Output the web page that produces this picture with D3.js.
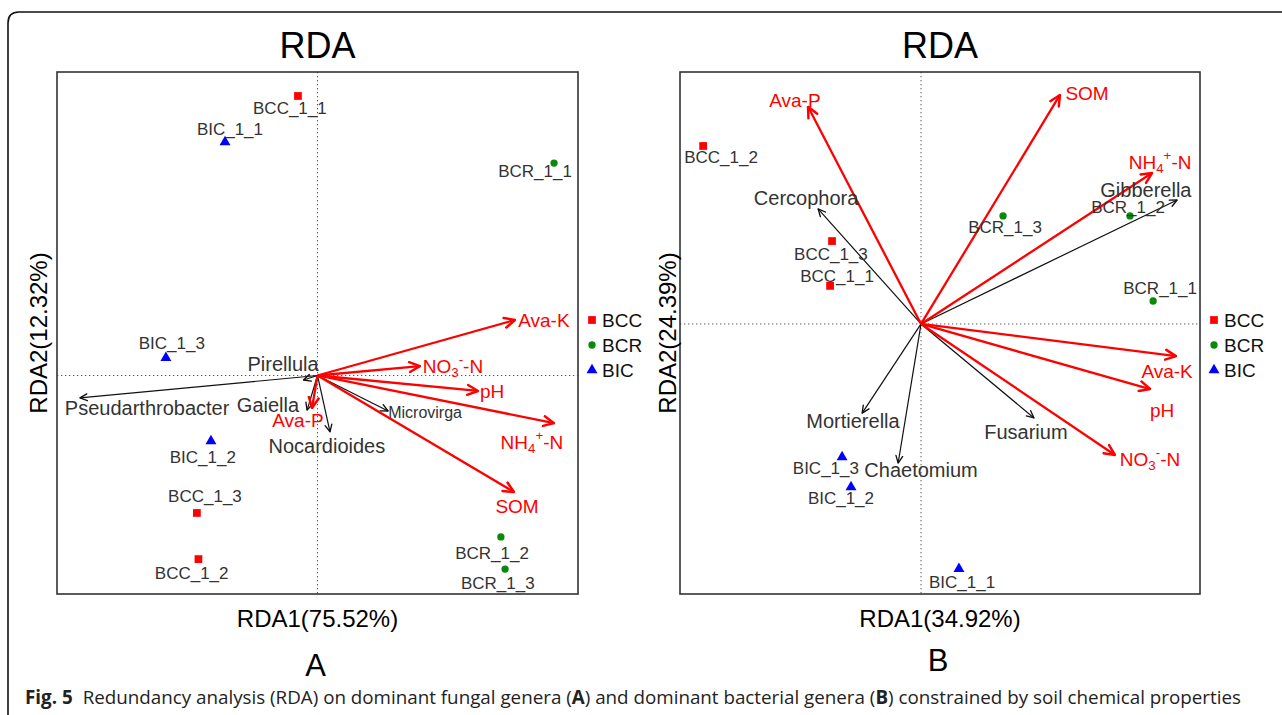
<!DOCTYPE html>
<html>
<head>
<meta charset="utf-8">
<script src="https://cdnjs.cloudflare.com/ajax/libs/d3/7.8.5/d3.min.js"></script>
<style>
  body { margin: 0; background: #fff; }
</style>
</head>
<body>
<div id="chart"></div>
<script>

// Groups shown in the legend
var groups = ["BCC", "BCR", "BIC"];

// Panel A : sample scores (x, y) and where the label sits (lx, ly)
var sitesA = [
    { name: "BCC_1_1", group: "BCC", x: -0.075, y: 0.921, lx: -0.106, ly: 0.881 },
    { name: "BIC_1_1", group: "BIC", x: -0.355, y: 0.769, lx: -0.336, ly: 0.809 },
    { name: "BCR_1_1", group: "BCR", x: 0.908, y: 0.700, lx: 0.835, ly: 0.673 },
    { name: "BIC_1_3", group: "BIC", x: -0.582, y: 0.058, lx: -0.559, ly: 0.104 },
    { name: "BIC_1_2", group: "BIC", x: -0.409, y: -0.216, lx: -0.440, ly: -0.269 },
    { name: "BCC_1_3", group: "BCC", x: -0.463, y: -0.453, lx: -0.432, ly: -0.400 },
    { name: "BCC_1_2", group: "BCC", x: -0.457, y: -0.605, lx: -0.483, ly: -0.654 },
    { name: "BCR_1_2", group: "BCR", x: 0.704, y: -0.532, lx: 0.670, ly: -0.585 },
    { name: "BCR_1_3", group: "BCR", x: 0.720, y: -0.638, lx: 0.692, ly: -0.684 }
];

// Panel A : genera (black arrows)
var speciesA = [
    { name: "Pseudarthrobacter", x: -0.912, y: -0.074, lx: -0.654, ly: -0.107 },
    { name: "Pirellula", x: -0.054, y: -0.015, lx: -0.132, ly: 0.038 },
    { name: "Gaiella", x: -0.040, y: -0.114, lx: -0.190, ly: -0.097 },
    { name: "Nocardioides", x: 0.048, y: -0.186, lx: 0.036, ly: -0.232 },
    { name: "Microvirga", x: 0.271, y: -0.117, lx: 0.413, ly: -0.121 }
];

// Panel A : soil properties (red arrows)
var envA = [
    { name: "Ava-K", x: 0.758, y: 0.183, lx: 0.869, ly: 0.183 },
    { name: "NO_3^--N", x: 0.393, y: 0.031, lx: 0.520, ly: 0.031 },
    { name: "pH", x: 0.616, y: -0.051, lx: 0.670, ly: -0.051 },
    { name: "NH_4^+-N", x: 0.908, y: -0.157, lx: 0.823, ly: -0.219 },
    { name: "SOM", x: 0.754, y: -0.384, lx: 0.766, ly: -0.430 },
    { name: "Ava-P", x: -0.021, y: -0.107, lx: -0.075, ly: -0.147 }
];

// Panel B : sample scores
var sitesB = [
    { name: "BCC_1_2", group: "BCC", x: -0.781, y: 0.659, lx: -0.717, ly: 0.615 },
    { name: "BCC_1_3", group: "BCC", x: -0.319, y: 0.307, lx: -0.323, ly: 0.259 },
    { name: "BCC_1_1", group: "BCC", x: -0.326, y: 0.141, lx: -0.301, ly: 0.174 },
    { name: "BCR_1_3", group: "BCR", x: 0.294, y: 0.400, lx: 0.301, ly: 0.356 },
    { name: "BCR_1_2", group: "BCR", x: 0.749, y: 0.400, lx: 0.742, ly: 0.430 },
    { name: "BCR_1_1", group: "BCR", x: 0.832, y: 0.085, lx: 0.857, ly: 0.133 },
    { name: "BIC_1_3", group: "BIC", x: -0.283, y: -0.493, lx: -0.341, ly: -0.537 },
    { name: "BIC_1_2", group: "BIC", x: -0.251, y: -0.604, lx: -0.287, ly: -0.648 },
    { name: "BIC_1_1", group: "BIC", x: 0.136, y: -0.907, lx: 0.147, ly: -0.956 }
];

// Panel B : genera
var speciesB = [
    { name: "Cercophora", x: -0.369, y: 0.426, lx: -0.412, ly: 0.467 },
    { name: "Gibberella", x: 0.918, y: 0.459, lx: 0.806, ly: 0.496 },
    { name: "Mortierella", x: -0.211, y: -0.330, lx: -0.244, ly: -0.359 },
    { name: "Chaetomium", x: -0.082, y: -0.515, lx: 0.000, ly: -0.541 },
    { name: "Fusarium", x: 0.405, y: -0.348, lx: 0.376, ly: -0.400 }
];

// Panel B : soil properties
var envB = [
    { name: "Ava-P", x: -0.405, y: 0.804, lx: -0.452, ly: 0.830 },
    { name: "SOM", x: 0.498, y: 0.848, lx: 0.595, ly: 0.856 },
    { name: "NH_4^+-N", x: 0.828, y: 0.559, lx: 0.857, ly: 0.600 },
    { name: "Ava-K", x: 0.914, y: -0.119, lx: 0.882, ly: -0.174 },
    { name: "pH", x: 0.821, y: -0.241, lx: 0.864, ly: -0.319 },
    { name: "NO_3^--N", x: 0.695, y: -0.485, lx: 0.821, ly: -0.500 }
];

// Axis titles and panel letters
var axisTitlesA = ["RDA1(75.52%)", "RDA2(12.32%)"];
var axisTitlesB = ["RDA1(34.92%)", "RDA2(24.39%)"];
var panelLetters = ["A", "B"];

///////////////////////////////////////////////////////////////////////////
///////////////////////////// Set up the SVG //////////////////////////////
///////////////////////////////////////////////////////////////////////////

var width = 1282,
    height = 715,
    font = "'Liberation Sans', Arial, sans-serif";

var colorScale = d3.scaleOrdinal()
    .domain(groups)
    .range(["#ff0000", "#0a8a0a", "#0000ff"]);

var shapeScale = d3.scaleOrdinal()
    .domain(groups)
    .range([d3.symbolSquare, d3.symbolCircle, d3.symbolTriangle]);

var sizeScale = d3.scaleOrdinal()
    .domain(groups)
    .range([60, 42, 52]);

var svg = d3.select("#chart")
    .append("svg")
        .attr("width", width)
        .attr("height", height);

// Arrow heads
var defs = svg.append("defs");

function addMarker(id, color, size, sw) {
    defs.append("marker")
        .attr("id", id)
        .attr("viewBox", "0 0 10 10")
        .attr("refX", 9)
        .attr("refY", 5)
        .attr("markerUnits", "userSpaceOnUse")
        .attr("markerWidth", size)
        .attr("markerHeight", size)
        .attr("orient", "auto")
        .append("path")
            .attr("d", "M1,1.2 L9,5 L1,8.8")
            .attr("fill", "none")
            .attr("stroke", color)
            .attr("stroke-width", sw)
            .attr("stroke-linecap", "round")
            .attr("stroke-linejoin", "round");
}
addMarker("head-red", "#ff0000", 13, 1.9);
addMarker("head-black", "#111", 9, 1.5);

// Outer rounded frame
svg.append("path")
    .attr("d", "M8,720 L8,23 Q8,12 19,12 L1290,12")
    .attr("fill", "none")
    .attr("stroke", "#111")
    .attr("stroke-width", 1.6);

// Writes labels like NO_3^--N with sub- and superscripts
function richText(sel, str, fs) {
    var parts = [], i = 0, buf = "";
    while (i < str.length) {
        var c = str[i];
        if ((c === "_" || c === "^") && i + 1 < str.length) {
            if (buf) { parts.push({ t: buf, k: "" }); buf = ""; }
            parts.push({ t: str[i + 1], k: c === "_" ? "sub" : "sup" });
            i += 2;
        } else {
            buf += c;
            i++;
        }
    }
    if (buf) parts.push({ t: buf, k: "" });

    var shift = 0;
    parts.forEach(function(p) {
        var target = p.k === "sub" ? fs * 0.3 : p.k === "sup" ? -fs * 0.35 : 0;
        sel.append("tspan")
            .attr("dy", target - shift)
            .style("font-size", p.k ? (fs * 0.7) + "px" : fs + "px")
            .text(p.t);
        shift = target;
    });
}

///////////////////////////////////////////////////////////////////////////
//////////////////////////////// Panels ///////////////////////////////////
///////////////////////////////////////////////////////////////////////////

function drawPanel(cfg) {

    var x = d3.scaleLinear()
        .domain(cfg.xDomain)
        .range([cfg.left, cfg.right]);

    var y = d3.scaleLinear()
        .domain(cfg.yDomain)
        .range([cfg.bottom, cfg.top]);

    var g = svg.append("g");
    var cx = (cfg.left + cfg.right) / 2,
        cy = (cfg.top + cfg.bottom) / 2;

    // Title
    g.append("text")
        .attr("x", cx)
        .attr("y", 58)
        .attr("text-anchor", "middle")
        .style("font-family", font)
        .style("font-size", "36px")
        .text("RDA");

    // Zero lines
    g.append("line")
        .attr("x1", x(0)).attr("x2", x(0))
        .attr("y1", cfg.top).attr("y2", cfg.bottom)
        .attr("stroke", "#555")
        .attr("stroke-width", 1)
        .attr("stroke-dasharray", "1.3,2.7");
    g.append("line")
        .attr("x1", cfg.left).attr("x2", cfg.right)
        .attr("y1", y(0)).attr("y2", y(0))
        .attr("stroke", "#555")
        .attr("stroke-width", 1)
        .attr("stroke-dasharray", "1.3,2.7");

    // Genus arrows
    g.append("g")
        .selectAll("line")
        .data(cfg.species)
        .enter()
        .append("line")
            .attr("x1", x(0)).attr("y1", y(0))
            .attr("x2", d => x(d.x)).attr("y2", d => y(d.y))
            .attr("stroke", "#111")
            .attr("stroke-width", 1.2)
            .attr("marker-end", "url(#head-black)");

    // Soil property arrows
    g.append("g")
        .selectAll("line")
        .data(cfg.env)
        .enter()
        .append("line")
            .attr("x1", x(0)).attr("y1", y(0))
            .attr("x2", d => x(d.x)).attr("y2", d => y(d.y))
            .attr("stroke", "#ff0000")
            .attr("stroke-width", 2.3)
            .attr("marker-end", "url(#head-red)");

    // Sample points
    g.append("g")
        .selectAll("path")
        .data(cfg.sites)
        .enter()
        .append("path")
            .attr("transform", d => "translate(" + x(d.x) + "," + y(d.y) + ")")
            .attr("d", d => d3.symbol().type(shapeScale(d.group)).size(sizeScale(d.group))())
            .attr("fill", d => colorScale(d.group));

    // Sample labels
    g.append("g")
        .selectAll("text")
        .data(cfg.sites)
        .enter()
        .append("text")
            .attr("x", d => x(d.lx))
            .attr("y", d => y(d.ly))
            .attr("text-anchor", "middle")
            .attr("dominant-baseline", "central")
            .style("font-family", font)
            .style("font-size", "17px")
            .style("fill", "#333")
            .text(d => d.name);

    // Genus labels
    g.append("g")
        .selectAll("text")
        .data(cfg.species)
        .enter()
        .append("text")
            .attr("x", d => x(d.lx))
            .attr("y", d => y(d.ly))
            .attr("text-anchor", "middle")
            .attr("dominant-baseline", "central")
            .style("font-family", font)
            .style("font-size", d => d.name === "Microvirga" ? "16px" : "20px")
            .style("fill", "#333")
            .text(d => d.name);

    // Soil property labels
    g.append("g")
        .selectAll("text")
        .data(cfg.env)
        .enter()
        .append("text")
            .attr("x", d => x(d.lx))
            .attr("y", d => y(d.ly))
            .attr("text-anchor", "middle")
            .attr("dominant-baseline", "central")
            .style("font-family", font)
            .style("fill", "#ff0000")
            .each(function(d) { richText(d3.select(this), d.name, 19); });

    // Box
    g.append("rect")
        .attr("x", cfg.left)
        .attr("y", cfg.top)
        .attr("width", cfg.right - cfg.left)
        .attr("height", cfg.bottom - cfg.top)
        .attr("fill", "none")
        .attr("stroke", "#333")
        .attr("stroke-width", 1.6);

    // Axis titles
    g.append("text")
        .attr("x", cx)
        .attr("y", cfg.bottom + 33)
        .attr("text-anchor", "middle")
        .style("font-family", font)
        .style("font-size", "24px")
        .text(cfg.axisTitles[0]);

    g.append("text")
        .attr("transform", "translate(" + (cfg.left - cfg.yTitleGap) + "," + cy + ") rotate(-90)")
        .attr("text-anchor", "middle")
        .style("font-family", font)
        .style("font-size", "24px")
        .text(cfg.axisTitles[1]);

    // Panel letter
    g.append("text")
        .attr("x", cx - 2)
        .attr("y", cfg.letterY)
        .attr("text-anchor", "middle")
        .style("font-family", font)
        .style("font-size", "31px")
        .text(cfg.letter);

    // Legend
    var legend = g.append("g")
        .selectAll("g")
        .data(groups)
        .enter()
        .append("g")
            .attr("transform", (d, i) => "translate(" + (cfg.right + 14) + "," + (320 + i * 25) + ")");

    legend.append("path")
        .attr("d", d => d3.symbol().type(shapeScale(d)).size(sizeScale(d))())
        .attr("fill", d => colorScale(d));

    legend.append("text")
        .attr("x", 10)
        .attr("dominant-baseline", "central")
        .style("font-family", font)
        .style("font-size", "19px")
        .style("fill", "#111")
        .text(d => d);
}

drawPanel({
    left: 57, right: 578, top: 72, bottom: 594,
    xDomain: [-1.0, 1.0], yDomain: [-0.72, 1.0],
    sites: sitesA, species: speciesA, env: envA,
    axisTitles: axisTitlesA, letter: panelLetters[0],
    yTitleGap: 10, letterY: 676
});

drawPanel({
    left: 680, right: 1200, top: 72, bottom: 594,
    xDomain: [-0.864, 1.0], yDomain: [-1.0, 0.933],
    sites: sitesB, species: speciesB, env: envB,
    axisTitles: axisTitlesB, letter: panelLetters[1],
    yTitleGap: 4, letterY: 671
});

///////////////////////////////////////////////////////////////////////////
//////////////////////////////// Caption //////////////////////////////////
///////////////////////////////////////////////////////////////////////////

var caption = svg.append("text")
    .attr("x", 25)
    .attr("y", 704)
    .style("font-family", "'Open Sans', 'Noto Sans', sans-serif")
    .style("font-size", "18.8px")
    .style("fill", "#222");

caption.append("tspan").style("font-weight", "bold").text("Fig. 5");
caption.append("tspan").attr("dx", 10).text("Redundancy analysis (RDA) on dominant fungal genera (");
caption.append("tspan").style("font-weight", "bold").text("A");
caption.append("tspan").text(") and dominant bacterial genera (");
caption.append("tspan").style("font-weight", "bold").text("B");
caption.append("tspan").text(") constrained by soil chemical properties");

</script>
</body>
</html>
